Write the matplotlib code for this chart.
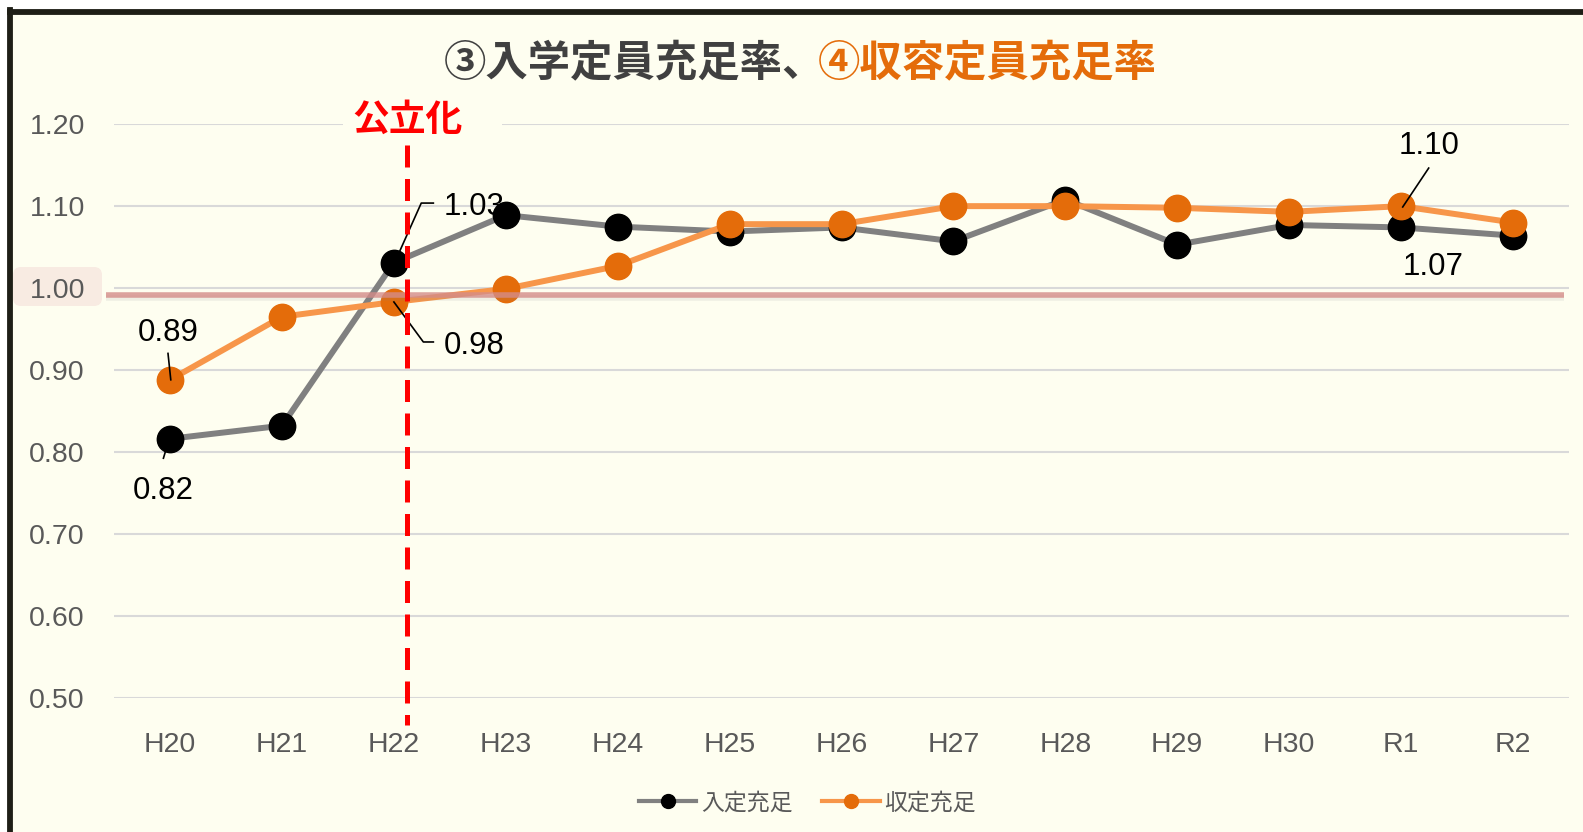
import matplotlib
matplotlib.use('Agg')
import matplotlib.pyplot as plt
import matplotlib.transforms as mtransforms
from matplotlib.patches import Rectangle, FancyBboxPatch
from matplotlib.lines import Line2D

# data
years = ["H20", "H21", "H22", "H23", "H24", "H25", "H26", "H27", "H28", "H29", "H30", "R1", "R2"]
nyugaku = [0.816, 0.832, 1.031, 1.089, 1.075, 1.069, 1.074, 1.057, 1.108, 1.053, 1.077, 1.074, 1.064]
shuyou = [0.888, 0.965, 0.983, 0.999, 1.027, 1.078, 1.078, 1.100, 1.100, 1.098, 1.093, 1.100, 1.080]
yticks = [0.50, 0.60, 0.70, 0.80, 0.90, 1.00, 1.10, 1.20]
ytick_labels = ["0.50", "0.60", "0.70", "0.80", "0.90", "1.00", "1.10", "1.20"]
ref_value = 0.992          # reddish reference line near 1.00
kouritsu_pos = 2.12        # "公立化" marker between H22 and H23

BG = '#FEFEF0'
GRAY_TXT = '#595959'
ORANGE = '#E46C0A'
ORANGE_LINE = '#F7964A'

plt.rcParams['font.family'] = ['Liberation Sans', 'Noto Sans CJK JP']

W, H = 1583, 832
fig = plt.figure(figsize=(W / 100, H / 100), dpi=100, facecolor='white')

# chart area background + frame (left/top edges visible)
fig.add_artist(Rectangle((10 / W, -0.1), 1.2, 1.1 - 12 / H, transform=fig.transFigure,
                         facecolor=BG, edgecolor='none', zorder=-10))
fig.add_artist(Line2D([10 / W, 10 / W], [0, 1 - 9.5 / H], transform=fig.transFigure,
                      color='#1E1E16', lw=4.2, zorder=-5))
fig.add_artist(Line2D([10 / W, 1], [1 - 12 / H, 1 - 12 / H], transform=fig.transFigure,
                      color='#1E1E16', lw=4.2, zorder=-5))
# pink box behind the 1.00 label
fig.add_artist(FancyBboxPatch((13, H - 306), 89, 39, boxstyle='round,pad=0,rounding_size=8',
                              transform=mtransforms.IdentityTransform(),
                              facecolor='#F8EBE2', edgecolor='none', zorder=-4))

ax = fig.add_axes([0.0721, 0.1615, 0.9911 - 0.0721, 0.8507 - 0.1615])
ax.set_facecolor('none')
x = list(range(len(years)))

ax.plot(x, nyugaku, color='#808080', lw=4.3, marker='o', markersize=19,
        markerfacecolor='black', markeredgecolor='black', zorder=3, label='入定充足')
ax.plot(x, shuyou, color=ORANGE_LINE, lw=4.3, marker='o', markersize=19,
        markerfacecolor=ORANGE, markeredgecolor=ORANGE, zorder=3.1, label='収定充足')

ax.set_xlim(-0.5, 12.5)
ax.set_ylim(0.5, 1.2)
ax.set_xticks(x, years)
ax.set_yticks(yticks, ytick_labels)
ax.tick_params(axis='both', length=0, labelsize=20.5, labelcolor=GRAY_TXT)
ax.tick_params(axis='y', pad=21)
ax.tick_params(axis='x', pad=25)
ax.grid(axis='y', color='#D9D9D9', lw=1.5)
ax.set_axisbelow(True)
for s in ax.spines.values():
    s.set_visible(False)


def leader(xi, yi, pts):
    tr = mtransforms.Affine2D().scale(fig.dpi / 72) + \
        mtransforms.ScaledTranslation(xi, yi, ax.transData)
    xs, ys = zip(*pts)
    ax.add_line(Line2D(xs, ys, transform=tr, color='black', lw=1.2, zorder=4, clip_on=False))


def label(xi, yi, dx, dy, ha='center'):
    ax.annotate(f"{yi:.2f}", xy=(xi, yi), xytext=(dx, dy - 3), textcoords='offset points',
                ha=ha, va='center', fontsize=22.5, color='black', zorder=2,
                annotation_clip=False)


# data labels
label(0, shuyou[0], -1.4, 36.5)
leader(0, shuyou[0], [(-1.5, 19), (0.5, 0)])
label(0, nyugaku[0], -5, -34.6)
leader(0, nyugaku[0], [(-4.8, -14), (-3.3, -9)])
label(2, nyugaku[2], 35.6, 42.9, ha='left')
leader(2, nyugaku[2], [(3.9, 7.6), (19.7, 42.9), (28.4, 42.9)])
label(2, shuyou[2], 35.6, -28.8, ha='left')
leader(2, shuyou[2], [(0, 0), (21.2, -28.8), (28.4, -28.8)])
label(11, shuyou[11], 19.9, 46.1)
leader(11, shuyou[11], [(19.9, 27.4), (1.2, -0.6)])
label(11, nyugaku[11], 23.0, -25.8)

# reference line near 1.00 with faint shadow
ax.plot([-0.57, 12.46], [ref_value - 0.004, ref_value - 0.004], color='#888888', lw=4,
        alpha=0.12, zorder=4.9, clip_on=False, solid_capstyle='butt')
ax.plot([-0.57, 12.46], [ref_value, ref_value], color='#D48C88', lw=4, alpha=0.8,
        zorder=5, clip_on=False, solid_capstyle='butt')

# 公立化 dashed line
ax.plot([kouritsu_pos, kouritsu_pos], [1.175, 0.467], color='#FF0000', lw=3.6,
        dashes=(4.4, 2.3), zorder=6, clip_on=False)
fig.add_artist(Rectangle((343 / W, 1 - 142 / H), 159 / W, 42 / H, transform=fig.transFigure,
                         facecolor=BG, edgecolor='none', zorder=1))
fig.text(408 / W, 1 - 120 / H, '公立化', color='#FF0000', fontsize=26.5, fontweight='bold',
         family='Noto Sans CJK JP', ha='center', va='center', zorder=2)

# title
fig.text(444 / W, 1 - 63 / H, '③入学定員充足率、', color='#404040', fontsize=30.5,
         fontweight='bold', family='Noto Sans CJK JP', ha='left', va='center')
fig.text(818 / W, 1 - 63 / H, '④収容定員充足率', color=ORANGE, fontsize=30.5,
         fontweight='bold', family='Noto Sans CJK JP', ha='left', va='center')

# legend
handles = [Line2D([], [], color='#808080', lw=3, marker='o', markersize=10,
                  markerfacecolor='black', markeredgecolor='black'),
           Line2D([], [], color=ORANGE_LINE, lw=3, marker='o', markersize=10,
                  markerfacecolor=ORANGE, markeredgecolor=ORANGE)]
fig.legend(handles, ['入定充足', '収定充足'], loc='center', bbox_to_anchor=(0.51, 1 - 803 / H),
           ncol=2, frameon=False, prop={'family': 'Noto Sans CJK JP', 'size': 16.5},
           labelcolor=GRAY_TXT, handlelength=2.5, handletextpad=0.2, columnspacing=1.3)

fig.savefig('out.png', dpi=100, facecolor='white')
